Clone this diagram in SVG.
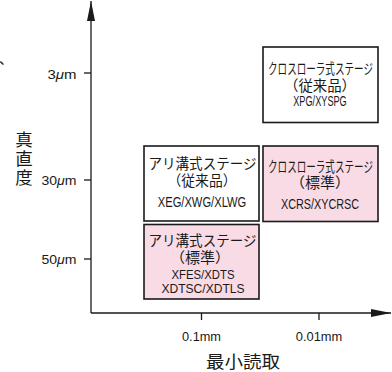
<svg xmlns="http://www.w3.org/2000/svg" width="392" height="372" viewBox="0 0 392 372">
<style>
  text { font-family: "Liberation Sans", "Noto Sans CJK JP", sans-serif; fill: #1a1a1a; }
  .box { stroke: #1a1a1a; stroke-width: 1.6; }
  .white { fill: #ffffff; }
  .pink { fill: #f9dbe6; }
  .bt { font-size: 14.5px; text-anchor: middle; }
  .bs { font-size: 13.5px; text-anchor: middle; }
  .ax { stroke: #1a1a1a; stroke-width: 1.3; fill: none; }
  .tick { font-size: 12.5px; }
  .title { font-size: 17.5px; }
</style>
<defs>
  <marker id="arr" viewBox="0 0 20 8" refX="20" refY="4" markerWidth="20" markerHeight="8" markerUnits="userSpaceOnUse" orient="auto">
    <path d="M0,0 L20,4 L0,8 Z" fill="#1a1a1a"/>
  </marker>
</defs>
<rect width="392" height="372" fill="#ffffff"/>
<text x="-1" y="64" style="font-size:14px">、</text>
<g id="connectors">
  <line class="ax" x1="91" y1="313" x2="91" y2="1" marker-end="url(#arr)"/>
  <line class="ax" x1="91" y1="313" x2="391" y2="313" marker-end="url(#arr)"/>
  <line class="ax" x1="84" y1="73" x2="91" y2="73"/>
  <line class="ax" x1="84" y1="180" x2="91" y2="180"/>
  <line class="ax" x1="84" y1="259" x2="91" y2="259"/>
  <line class="ax" x1="201.5" y1="313" x2="201.5" y2="320"/>
  <line class="ax" x1="319" y1="313" x2="319" y2="320"/>
</g>
<g id="axis-labels">
  <text class="tick" x="76.5" y="78.5" text-anchor="end" textLength="29" lengthAdjust="spacingAndGlyphs">3<tspan font-style="italic">μ</tspan>m</text>
  <text class="tick" x="76.5" y="184.5" text-anchor="end" textLength="35" lengthAdjust="spacingAndGlyphs">30<tspan font-style="italic">μ</tspan>m</text>
  <text class="tick" x="76.5" y="264" text-anchor="end" textLength="35" lengthAdjust="spacingAndGlyphs">50<tspan font-style="italic">μ</tspan>m</text>
  <text class="tick" x="201.5" y="340.5" text-anchor="middle" textLength="39" lengthAdjust="spacingAndGlyphs">0.1mm</text>
  <text class="tick" x="319" y="340.5" text-anchor="middle" textLength="46.5" lengthAdjust="spacingAndGlyphs">0.01mm</text>
  <text class="title" x="24" y="146" text-anchor="middle">真</text>
  <text class="title" x="24" y="165" text-anchor="middle">直</text>
  <text class="title" x="24" y="184" text-anchor="middle">度</text>
  <text class="title" x="243" y="368" text-anchor="middle" textLength="74" lengthAdjust="spacingAndGlyphs">最小読取</text>
</g>
<g id="node-xpg">
  <rect class="box white" x="263" y="47" width="115" height="75.5"/>
  <text class="bt" transform="translate(320.5,74) scale(0.66,1)" x="0" y="0">クロスローラ式ステージ</text>
  <text class="bt" x="320" y="90.5" textLength="72" lengthAdjust="spacingAndGlyphs">（従来品）</text>
  <text class="bt" x="320" y="105.5" textLength="53.5" lengthAdjust="spacingAndGlyphs">XPG/XYSPG</text>
</g>
<g id="node-xeg">
  <rect class="box white" x="144" y="146" width="115" height="75"/>
  <text class="bt" x="202.5" y="169" textLength="108" lengthAdjust="spacingAndGlyphs">アリ溝式ステージ</text>
  <text class="bt" x="202" y="186" textLength="69" lengthAdjust="spacingAndGlyphs">（従来品）</text>
  <text class="bt" x="202" y="207" textLength="88.5" lengthAdjust="spacingAndGlyphs">XEG/XWG/XLWG</text>
</g>
<g id="node-xcrs">
  <rect class="box pink" x="263" y="146" width="115" height="75.5"/>
  <text class="bt" transform="translate(320.5,171.5) scale(0.66,1)" x="0" y="0">クロスローラ式ステージ</text>
  <text class="bt" x="320" y="188" textLength="60" lengthAdjust="spacingAndGlyphs">（標準）</text>
  <text class="bt" x="320" y="208.5" textLength="78" lengthAdjust="spacingAndGlyphs">XCRS/XYCRSC</text>
</g>
<g id="node-xfes">
  <rect class="box pink" x="144" y="224.5" width="115" height="74.5"/>
  <text class="bt" x="202.5" y="245.5" textLength="108" lengthAdjust="spacingAndGlyphs">アリ溝式ステージ</text>
  <text class="bt" x="200" y="262.5" textLength="60" lengthAdjust="spacingAndGlyphs">（標準）</text>
  <text class="bs" x="203" y="278.5" textLength="63" lengthAdjust="spacingAndGlyphs">XFES/XDTS</text>
  <text class="bs" x="203" y="292.5" textLength="83" lengthAdjust="spacingAndGlyphs">XDTSC/XDTLS</text>
</g>
</svg>
